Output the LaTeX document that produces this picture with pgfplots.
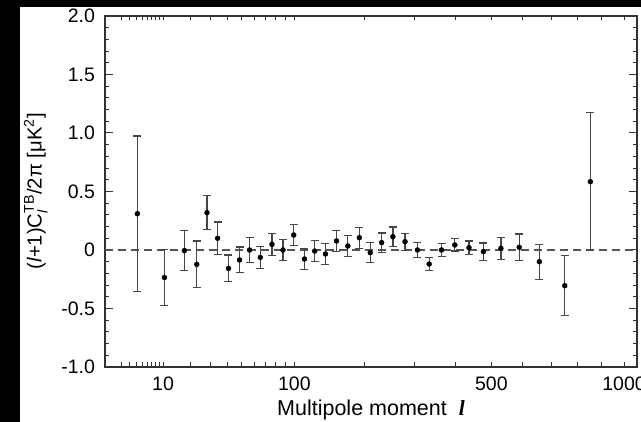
\documentclass[border=0pt]{standalone}
\usepackage{amsmath}
\usepackage{pgfplots}
\pgfplotsset{compat=1.18}
\usepackage{pgfplotstable}
\usepackage{fontspec}
\setmainfont{Liberation Sans}
\newfontfamily\serif{Liberation Serif}
\definecolor{axisgray}{RGB}{50,50,50}
\definecolor{errgray}{RGB}{70,70,70}
\definecolor{dashgray}{RGB}{85,85,85}

\pgfplotstableread{
l y e
4.15 0.31 0.665
10.4 -0.235 0.24
17.3 -0.005 0.172
22.7 -0.123 0.2
27.8 0.319 0.145
33.8 0.10 0.14
40.7 -0.157 0.114
48.5 -0.085 0.11
56.3 0.0 0.107
65.4 -0.063 0.095
76.3 0.048 0.092
87.5 0.0 0.09
99.3 0.128 0.09
112 -0.077 0.09
125 -0.009 0.09
139.6 -0.034 0.09
155.5 0.077 0.09
173 0.034 0.09
192 0.105 0.09
211 -0.023 0.085
232 0.063 0.083
254 0.114 0.083
279 0.071 0.072
306 0.0 0.063
333 -0.12 0.055
363 0.0 0.057
397 0.043 0.052
435 0.02 0.057
476 -0.014 0.074
529 0.014 0.093
588 0.023 0.114
657 -0.1 0.15
751 -0.305 0.256
853 0.584 0.59
}\tbdata

\begin{document}
\begin{tikzpicture}
\fill[black] (-105pt,-55pt) rectangle (536pt,367pt);
\fill[white] (-85pt,-55pt) rectangle (536pt,360pt);
\begin{axis}[
  at={(0pt,0pt)}, anchor=south west,
  scale only axis, width=532pt, height=351pt,
  xmin=0.63, xmax=1060, ymin=-1, ymax=2,
  x coord trafo/.code={\pgfmathparse{(#1)^0.4}},
  x coord inv trafo/.code={\pgfmathparse{(#1)^2.5}},
  xtick={10,100,500,1000}, xticklabels={10,100,500,1000},
  minor xtick={2,3,4,5,6,7,8,9,10,20,30,40,50,60,70,80,90,100,200,300,400,500,600,700,800,900,1000},
  major x tick style={draw=none},
  ytick={-1,-0.5,0,0.5,1,1.5,2}, yticklabels={-1.0,-0.5,0,0.5,1.0,1.5,2.0},
  minor y tick num=4,
  tick align=inside,
  major tick length=8pt, minor tick length=4.5pt,
  axis line style={line width=1.3pt, color=axisgray},
  every tick/.style={line width=1pt, color=axisgray},
  tick label style={font=\fontsize{19.5}{22}\selectfont, color=black},
  yticklabel style={xshift=-6.5pt},
  xticklabel style={yshift=-6pt},
  xlabel={Multipole moment\ \ {\serif\bfseries\itshape l}},
  xlabel style={at={(axis description cs:0.5,0)}, anchor=base, yshift=-49pt, font=\fontsize{21.5}{24}\selectfont},
  ylabel={(\textit{l}+1)C$_{\text{\itshape l}}^{\text{TB}}$/2π [μK\textsuperscript{2}]},
  ylabel style={at={(axis description cs:-0.13,0.5)}, anchor=center, font=\fontsize{20.3}{23}\selectfont},
]
\addplot[dashgray, line width=1.3pt, dash pattern=on 8pt off 5pt, forget plot] coordinates {(0.63,0) (1060,0)};
\addplot[only marks, mark=*, mark size=2.5pt, black,
  error bars/.cd, y dir=both, y explicit,
  error bar style={errgray, line width=1.2pt},
  error mark options={rotate=90, mark size=4pt, errgray, line width=1.2pt}]
  table[x=l, y=y, y error=e] {\tbdata};
\end{axis}
\pgfresetboundingbox
\useasboundingbox (-105pt,-55pt) rectangle (536pt,367pt);
\end{tikzpicture}
\end{document}
